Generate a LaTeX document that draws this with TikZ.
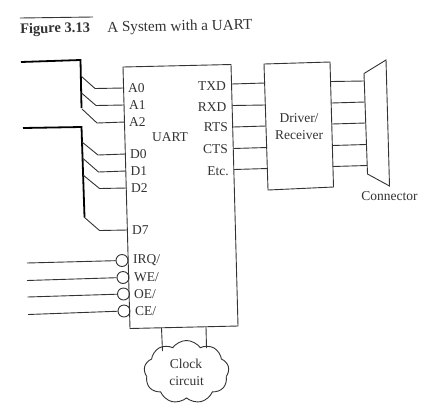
\documentclass[tikz,border=0pt]{standalone}
\usepackage{fontspec}
\setmainfont{Liberation Serif}
\usetikzlibrary{shapes.symbols}
\definecolor{ink}{gray}{0.2}
\tikzset{
  wire/.style={draw=ink,line width=0.9pt},
  bus/.style={draw=black,line width=1.8pt},
  boxline/.style={draw=ink,line width=0.9pt},
  lbl/.style={font=\fontsize{13.5}{15}\selectfont,text=ink,inner sep=0pt},
  ttl/.style={font=\fontsize{15}{17}\selectfont,text=ink,inner sep=0pt,rotate=1,anchor=west},
  pin/.style={lbl,anchor=west},
  pinr/.style={lbl,anchor=east},
  bubble/.style={circle,draw=ink,line width=0.9pt,minimum size=12pt,inner sep=0pt},
}
\begin{document}
\begin{tikzpicture}[x=1pt,y=-1pt]
\useasboundingbox (0,0) rectangle (427,413);
\fill[white] (0,0) rectangle (427,413);
% title
\coordinate (r1) at (20,18); \coordinate (r2) at (93,17);
\draw[draw=ink,line width=0.9pt] (r1) -- (r2);
\node[ttl,font=\fontsize{14.5}{17}\selectfont\bfseries] (fig) at (20,30) {Figure 3.13};
\node[ttl,font=\fontsize{15.2}{17}\selectfont] (title) at (107,28.5) {A System with a UART};
% UART box
\coordinate (u1) at (123,67); \coordinate (u2) at (231,64.5);
\coordinate (u3) at (238,326); \coordinate (u4) at (130,328.5);
\draw[boxline] (u1) -- (u2) -- (u3) -- (u4) -- cycle;
% Driver
\coordinate (d1) at (264,64); \coordinate (d2) at (330,62);
\coordinate (d3) at (333.5,187); \coordinate (d4) at (268,190);
\draw[boxline] (d1) -- (d2) -- (d3) -- (d4) -- cycle;
% Connector
\coordinate (c1) at (364,73.5); \coordinate (c2) at (386,60);
\coordinate (c3) at (389.5,186); \coordinate (c4) at (367.5,174);
\draw[boxline] (c1) -- (c2) -- (c3) -- (c4) -- cycle;
% labels
\node[pin] (A0) at (128,88) {A0};
\node[pin] (A1) at (129,105) {A1};
\node[pin] (A2) at (129,122) {A2};
\node[pin] (D0) at (130,154) {D0};
\node[pin] (D1) at (130.5,171) {D1};
\node[pin] (D2) at (131,188) {D2};
\node[pin] (D7) at (132,230) {D7};
\node[pin] (IRQ) at (133,260) {IRQ/};
\node[pin] (WE) at (134,277) {WE/};
\node[pin] (OE) at (134,294) {OE/};
\node[pin] (CE) at (135,311) {CE/};
\node[lbl] (uart) at (170,137) {UART};
\node[pinr] (TXD) at (226,86) {TXD};
\node[pinr] (RXD) at (226.5,107) {RXD};
\node[pinr] (RTS) at (228,127) {RTS};
\node[pinr] (CTS) at (228,149) {CTS};
\node[pinr] (ETC) at (229,171) {Etc.};
\node[lbl] (drv) at (299,118) {Driver/};
\node[lbl] (rcv) at (299,135) {Receiver};
\node[lbl] (conn) at (389.5,196) {Connector};
% UART - driver wires
\foreach \n/\xa/\ya/\xb/\yb in {a/231.5/84/265/83,b/232.5/105.5/265.5/105,c/233/127/266/126,d/233.5/148.5/267/147.5,e/234/169.5/267.5/168.5}{
  \coordinate (ul\n) at (\xa,\ya); \coordinate (dl\n) at (\xb,\yb);
  \draw[wire] (ul\n) -- (dl\n);
}
% driver - connector wires
\foreach \n/\xa/\ya/\xb/\yb in {a/331/81.5/364.5/81,b/331.5/103/365/102,c/332/124/365.5/123,d/332.5/145.5/366/144.5,e/333/166.5/367/165.5}{
  \coordinate (dr\n) at (\xa,\ya); \coordinate (cl\n) at (\xb,\yb);
  \draw[wire] (dr\n) -- (cl\n);
}
% address bus
\coordinate (ab0) at (21,62); \coordinate (ab1) at (80.5,60); \coordinate (ab2) at (81.5,108);
\draw[bus,line join=miter] (ab0) -- (ab1) -- (ab2);
\foreach \n/\xa/\ya/\xb/\yb/\xc/\yc in {0/81/76/95/88.5/124/88,1/81.5/93/96/105.5/124.5/105,2/82/109/97/123/125/122}{
  \coordinate (at\n) at (\xa,\ya); \coordinate (ak\n) at (\xb,\yb); \coordinate (ae\n) at (\xc,\yc);
  \draw[wire] (at\n) -- (ak\n) -- (ae\n);
}
% data bus
\coordinate (db0) at (23,128); \coordinate (db1) at (81.5,127); \coordinate (db2) at (84.5,217);
\draw[bus,line join=miter] (db0) -- (db1) -- (db2);
\foreach \n/\xa/\ya/\xb/\yb/\xc/\yc in {0/82/142/98/155/125.5/154,1/82.5/158/98.5/172/126/171,2/83/175/99.5/188.5/127/188,7/84/217/99.5/230.5/127.5/230}{
  \coordinate (dt\n) at (\xa,\ya); \coordinate (dk\n) at (\xb,\yb); \coordinate (de\n) at (\xc,\yc);
  \draw[wire] (dt\n) -- (dk\n) -- (de\n);
}
% active-low inputs
\foreach \n/\cx/\cy/\sx/\sy in {irq/122/260.5/27/263,we/123/277.5/27/280.5,oe/123.5/294/27.5/297,ce/124/311/28/314.5}{
  \node[bubble] (b\n) at (\cx,\cy) {};
  \coordinate (s\n) at (\sx,\sy);
  \draw[wire] (s\n) -- (b\n);
}
% clock
\node[cloud,draw=ink,line width=0.9pt,cloud puffs=9,cloud puff arc=110,aspect=1.35,minimum width=85pt,minimum height=63pt,inner sep=0pt] (cloud) at (186.5,372) {};
\node[lbl] (clk) at (186,364) {Clock};
\node[lbl] (cir) at (186.5,381) {circuit};
\coordinate (k1) at (161.5,328); \coordinate (k1e) at (162.5,351);
\coordinate (k2) at (206,327); \coordinate (k2e) at (206.5,348);
\draw[wire] (k1) -- (k1e);
\draw[wire] (k2) -- (k2e);
\end{tikzpicture}
\end{document}
